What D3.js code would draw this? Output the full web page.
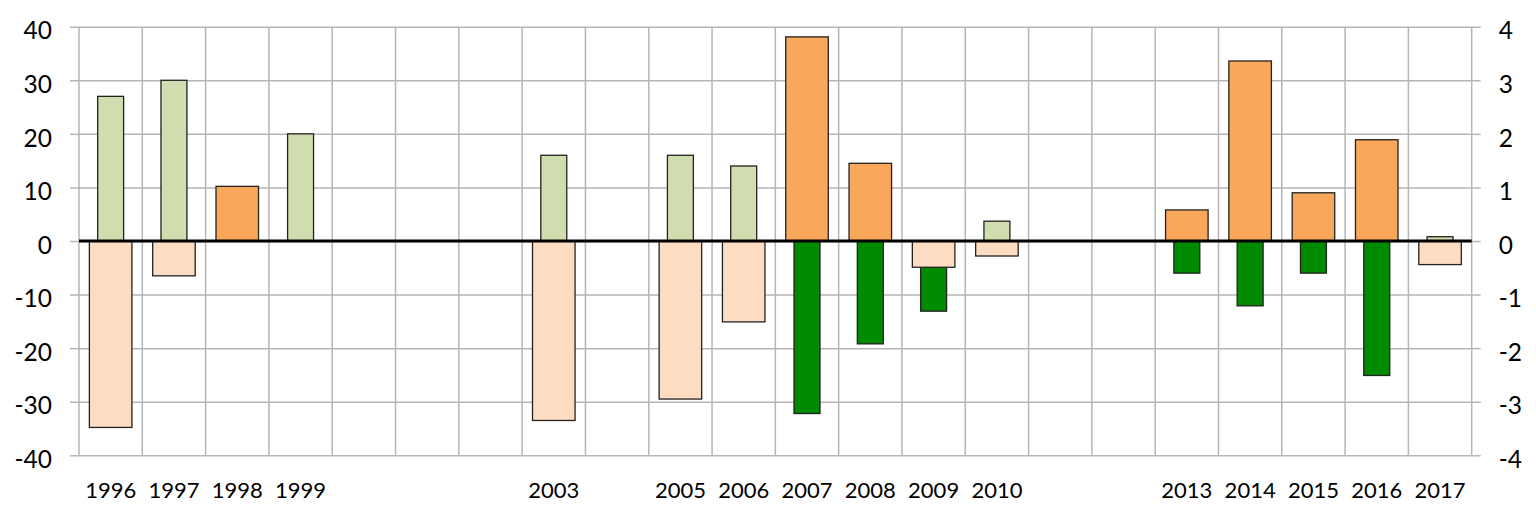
<!DOCTYPE html>
<html>
<head>
<meta charset="utf-8">
<script src="https://cdn.jsdelivr.net/npm/d3@7"></script>
<style>
  html, body { margin: 0; padding: 0; background: #fff; }
  svg { display: block; }
  text { font-family: Lato, "Open Sans", sans-serif; fill: #000; }
</style>
</head>
<body>
<svg id="chart" width="1536" height="516"></svg>
<script>
// ---- data ----
const years = [1996,1997,1998,1999,2000,2001,2002,2003,2004,2005,2006,2007,2008,2009,2010,2011,2012,2013,2014,2015,2016,2017];
// narrow bars, left axis (-40..40)
const greenValues = [27, 30, null, 20, null, null, null, 16, null, 16, 14, -32.2, -19.2, -13.1, 3.7, null, null, -6.0, -12.1, -6.0, -25.1, 0.8];
// wide bars, right axis (-4..4)
const orangeValues = [-3.48, -0.65, 1.02, null, null, null, null, -3.35, null, -2.95, -1.51, 3.81, 1.45, -0.49, -0.28, null, null, 0.58, 3.36, 0.9, 1.89, -0.44];
const leftTicks = [-40,-30,-20,-10,0,10,20,30,40];
const rightTicks = [-4,-3,-2,-1,0,1,2,3,4];

// ---- layout ----
const L = 79, R = 1471.7, T = 26.7, B = 455.3;
const svg = d3.select("#chart");

const x = d3.scaleBand().domain(years).range([L, R]).padding(0);
const yL = d3.scaleLinear().domain([-40, 40]).range([B, T]);
const yR = d3.scaleLinear().domain([-4, 4]).range([B, T]);

const gridColor = "#B6B6B6";
const fmt = d => String(d);

// horizontal gridlines
svg.append("g")
  .attr("transform", `translate(${L},0)`)
  .call(d3.axisLeft(yL).tickValues(leftTicks).tickSize(-(R - L)).tickFormat(""))
  .call(g => g.select(".domain").remove())
  .call(g => g.selectAll("line").attr("stroke", gridColor).attr("stroke-width", 1.5));

// vertical gridlines
const vx = years.map(d => x(d)).concat([x.range()[1]]);
svg.append("g").selectAll("line").data(vx).join("line")
  .attr("x1", d => d).attr("x2", d => d)
  .attr("y1", T).attr("y2", B)
  .attr("stroke", gridColor).attr("stroke-width", 1.5);

// left axis
svg.append("g")
  .attr("transform", `translate(${L},0)`)
  .call(d3.axisLeft(yL).tickValues(leftTicks).tickFormat(fmt).tickSize(9).tickPadding(18))
  .call(g => g.select(".domain").remove())
  .call(g => g.selectAll("line").attr("stroke", gridColor).attr("stroke-width", 1.5))
  .call(g => g.selectAll("text").attr("font-size", 24.5).attr("dy", "0.5em").attr("font-family", "Lato"));

// right axis
svg.append("g")
  .attr("transform", `translate(${R},0)`)
  .call(d3.axisRight(yR).tickValues(rightTicks).tickFormat(fmt).tickSize(9).tickPadding(18))
  .call(g => g.select(".domain").remove())
  .call(g => g.selectAll("line").attr("stroke", gridColor).attr("stroke-width", 1.5))
  .call(g => g.selectAll("text").attr("font-size", 24.5).attr("dy", "0.5em").attr("font-family", "Lato"));

// bottom axis labels (only years with data)
const hasData = (d, i) => greenValues[i] !== null || orangeValues[i] !== null;
svg.append("g")
  .attr("transform", `translate(0,${B})`)
  .call(d3.axisBottom(x).tickSize(0).tickPadding(27)
    .tickFormat((d) => { const i = years.indexOf(d); return hasData(d, i) ? d : ""; }))
  .call(g => g.select(".domain").remove())
  .call(g => g.selectAll("text").attr("font-size", 22).attr("font-family", "Lato"));

// narrow green bars (left axis)
const nw = x.bandwidth() * 0.41;
const greenData = years.map((d, i) => ({ year: d, v: greenValues[i] })).filter(d => d.v !== null);
svg.append("g").selectAll("rect").data(greenData).join("rect")
  .attr("x", d => x(d.year) + (x.bandwidth() - nw) / 2)
  .attr("width", nw)
  .attr("y", d => yL(Math.max(0, d.v)))
  .attr("height", d => Math.abs(yL(d.v) - yL(0)))
  .attr("fill", d => d.v >= 0 ? "#D0DDAE" : "#008A00")
  .attr("stroke", "#222").attr("stroke-width", 1.3);

// wide orange bars (right axis)
const ww = x.bandwidth() * 0.672;
const orangeData = years.map((d, i) => ({ year: d, v: orangeValues[i] })).filter(d => d.v !== null);
svg.append("g").selectAll("rect").data(orangeData).join("rect")
  .attr("x", d => x(d.year) + (x.bandwidth() - ww) / 2)
  .attr("width", ww)
  .attr("y", d => yR(Math.max(0, d.v)))
  .attr("height", d => Math.abs(yR(d.v) - yR(0)))
  .attr("fill", d => d.v >= 0 ? "#F9A75A" : "#FDDCC2")
  .attr("stroke", "#222").attr("stroke-width", 1.3);

// zero line
svg.append("line")
  .attr("x1", L).attr("x2", R)
  .attr("y1", yL(0)).attr("y2", yL(0))
  .attr("stroke", "#000").attr("stroke-width", 3);
</script>
</body>
</html>
